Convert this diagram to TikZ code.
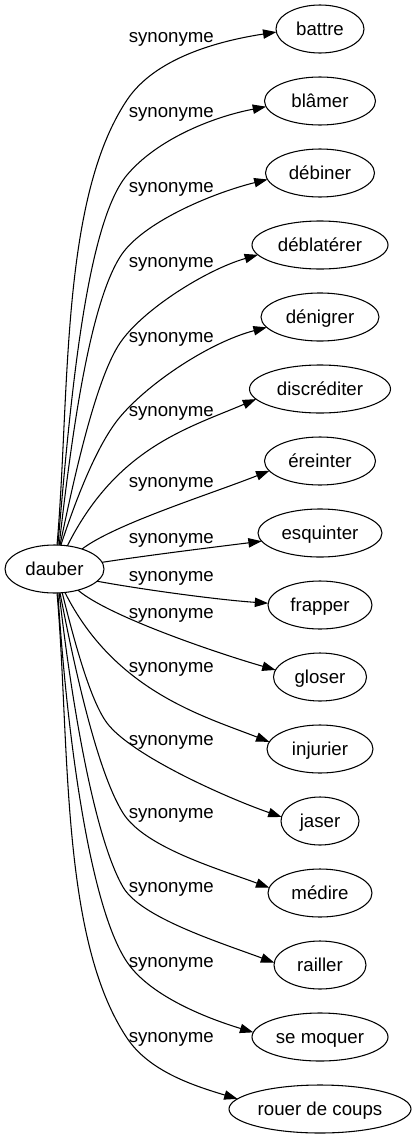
\documentclass[tikz,border=0pt]{standalone}
\usepackage{fontspec}
\setmainfont{Liberation Sans}
\usetikzlibrary{arrows.meta,shapes.geometric}
\begin{document}
\begin{tikzpicture}[x=0.75pt,y=-0.75pt,
  term/.style={draw, ellipse, inner sep=0pt, outer sep=0pt, minimum height=36pt, line width=0.8pt,
    font=\fontsize{14pt}{16pt}\selectfont, text height=9pt, text depth=0pt},
  rel/.style={anchor=base west, inner sep=0pt, font=\fontsize{14pt}{16pt}\selectfont},
  edge/.style={draw, line width=0.8pt, -{Triangle[length=10pt,width=7pt]}}
]
\useasboundingbox (0,0) rectangle (416,1139);
% nodes
\node[term, minimum width=74.25pt] (dauber) at (54.5,569) {dauber};
\node[term, minimum width=66pt]    (battre) at (320,29) {battre};
\node[term, minimum width=83.25pt] (blamer) at (320,101) {blâmer};
\node[term, minimum width=81.75pt] (debiner) at (320,173) {débiner};
\node[term, minimum width=102pt]   (deblaterer) at (320,245) {déblatérer};
\node[term, minimum width=88.5pt]  (denigrer) at (320,317) {dénigrer};
\node[term, minimum width=105.75pt] (discrediter) at (320,389) {discréditer};
\node[term, minimum width=83.25pt] (ereinter) at (320,461) {éreinter};
\node[term, minimum width=93pt]    (esquinter) at (320,533) {esquinter};
\node[term, minimum width=78pt]    (frapper) at (320,605) {frapper};
\node[term, minimum width=69.75pt] (gloser) at (320,677) {gloser};
\node[term, minimum width=79.5pt]  (injurier) at (320,749) {injurier};
\node[term, minimum width=58.5pt]  (jaser) at (320,821) {jaser};
\node[term, minimum width=78pt]    (medire) at (320,893) {médire};
\node[term, minimum width=69pt]    (railler) at (320,965) {railler};
\node[term, minimum width=102pt]   (semoquer) at (320,1037) {se moquer};
\node[term, minimum width=136.5pt] (rouer) at (320,1109) {rouer de coups};
% labels
\node[rel] (l1) at (128.5,42.7) {synonyme};
\node[rel] (l2) at (128.5,117.5) {synonyme};
\node[rel] (l3) at (128.5,192.5) {synonyme};
\node[rel] (l4) at (128.5,267.3) {synonyme};
\node[rel] (l5) at (128.5,342.3) {synonyme};
\node[rel] (l6) at (128.5,416.8) {synonyme};
\node[rel] (l7) at (128.5,487.5) {synonyme};
\node[rel] (l8) at (128.5,543.5) {synonyme};
\node[rel] (l9) at (128.5,581.8) {synonyme};
\node[rel] (l10) at (128.5,618.5) {synonyme};
\node[rel] (l11) at (128.5,672.5) {synonyme};
\node[rel] (l12) at (128.5,745.5) {synonyme};
\node[rel] (l13) at (128.5,818.5) {synonyme};
\node[rel] (l14) at (128.5,892) {synonyme};
\node[rel] (l15) at (128.5,967) {synonyme};
\node[rel] (l16) at (128.5,1042.5) {synonyme};
% edges
\draw[edge] (dauber.84) .. controls (70,395) and (60,200) .. (127,100)
            .. controls (155,58) and (218,41) .. (battre.184);
\draw[edge] (dauber.82) .. controls (69,420) and (84,226) .. (127,175)
            .. controls (156,140.5) and (210,117.5) .. (blamer.186);
\draw[edge] (dauber.79) .. controls (70.5,446) and (88,308) .. (120,257)
            .. controls (141,223) and (211.6,193.3) .. (debiner.187);
\draw[edge] (dauber.77) .. controls (72.4,486) and (94.8,380.3) .. (120,343)
            .. controls (142.4,309.8) and (206,269.8) .. (deblaterer.189.5);
\draw[edge] (dauber.75) .. controls (76.5,497.5) and (97.5,443.8) .. (120,417)
            .. controls (149,382.5) and (209.9,342.2) .. (denigrer.191);
\draw[edge] (dauber.61) .. controls (116.5,448) and (187,428.5) .. (discrediter.189);
\draw[edge] (dauber.36) .. controls (115,524) and (209.4,494.5) .. (ereinter.191);
\draw[edge] (dauber.8) .. controls (150,555) and (215,547) .. (esquinter.188);
\draw[edge] (dauber.-16) .. controls (145,590) and (220,600) .. (frapper.178);
\draw[edge] (dauber.-42) .. controls (108,616) and (216.5,653) .. (gloser.171);
\draw[edge] (dauber.-66) .. controls (114.5,691) and (203,716) .. (injurier.172);
\draw[edge] (dauber.-72) .. controls (72,631.7) and (89,699) .. (107,723)
            .. controls (131,755) and (224.4,797) .. (jaser.174);
\draw[edge] (dauber.-77) .. controls (73.3,661.6) and (96.5,770.6) .. (123,813)
            .. controls (144.2,847) and (216.6,868.3) .. (medire.174.5);
\draw[edge] (dauber.-79) .. controls (70.3,692.4) and (93,835) .. (123,887)
            .. controls (140.5,917.3) and (217.9,941.8) .. (railler.177.5);
\draw[edge] (dauber.-82) .. controls (66,722.7) and (87.9,904) .. (127,962)
            .. controls (149.4,995.2) and (204.2,1017.4) .. (semoquer.176);
\draw[edge] (dauber.-84) .. controls (70,743) and (60,938) .. (127,1038)
            .. controls (149,1071) and (192.4,1085.3) .. (rouer.173.7);
\end{tikzpicture}
\end{document}
